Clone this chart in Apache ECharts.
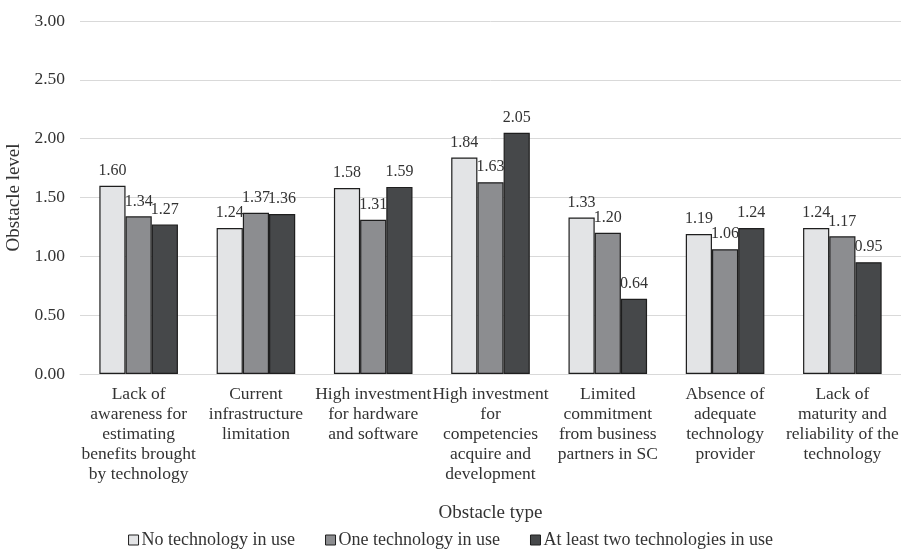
<!DOCTYPE html>
<html>
<head>
<meta charset="utf-8">
<script src="https://cdn.jsdelivr.net/npm/echarts@6/dist/echarts.min.js"></script>
<style>
  html, body { margin: 0; padding: 0; background: #fff; }
  #chart { width: 901px; height: 549px; }
</style>
</head>
<body>
<div id="chart"></div>
<script>
const categories = [
  'Lack of\nawareness for\nestimating\nbenefits brought\nby technology',
  'Current\ninfrastructure\nlimitation',
  'High investment\nfor hardware\nand software',
  'High investment\nfor\ncompetencies\nacquire and\ndevelopment',
  'Limited\ncommitment\nfrom business\npartners in SC',
  'Absence of\nadequate\ntechnology\nprovider',
  'Lack of\nmaturity and\nreliability of the\ntechnology',
];
const seriesNames = ['No technology in use', 'One technology in use', 'At least two technologies in use'];
const noTech = [1.60, 1.24, 1.58, 1.84, 1.33, 1.19, 1.24];
const oneTech = [1.34, 1.37, 1.31, 1.63, 1.20, 1.06, 1.17];
const twoTech = [1.27, 1.36, 1.59, 2.05, 0.64, 1.24, 0.95];
const colors = ['#e3e4e6', '#8c8d90', '#46484a'];

const font = '"Liberation Serif", "Times New Roman", serif';

const chart = echarts.init(document.getElementById('chart'), null, { renderer: 'canvas' });

const makeSeries = (name, data, color) => ({
  name,
  type: 'bar',
  data,
  barGap: '0%',
  barCategoryGap: '33%',
  itemStyle: {
    color,
    borderColor: '#1e1e1e',
    borderWidth: 1.2,
  },
  label: {
    show: true,
    position: 'top',
    distance: 7,
    formatter: (p) => p.value.toFixed(2),
    fontFamily: font,
    fontSize: 16,
    color: '#333',
  },
});

const option = {
  animation: false,
  textStyle: { fontFamily: font },
  grid: {
    left: 80,
    right: 0,
    top: 21,
    bottom: 175,
    outerBoundsMode: 'none',
    containLabel: false,
  },
  legend: {
    top: 526,
    left: 'center',
    itemWidth: 10,
    itemHeight: 10,
    itemGap: 30,
    icon: 'rect',
    textStyle: { fontFamily: font, fontSize: 18, color: '#333', padding: [0, 0, 0, -2] },
    data: seriesNames.map((n) => ({
      name: n,
      itemStyle: { borderColor: '#1e1e1e', borderWidth: 1 },
    })),
  },
  xAxis: {
    type: 'category',
    data: categories,
    name: 'Obstacle type',
    nameLocation: 'middle',
    nameGap: 130,
    nameTextStyle: { fontFamily: font, fontSize: 19, color: '#333' },
    axisLine: { lineStyle: { color: '#d9d9d9', width: 1 } },
    axisTick: { show: false },
    axisLabel: {
      interval: 0,
      fontFamily: font,
      fontSize: 17.5,
      lineHeight: 20,
      color: '#333',
      margin: 10,
    },
  },
  yAxis: {
    type: 'value',
    min: 0,
    max: 3,
    interval: 0.5,
    name: 'Obstacle level',
    nameLocation: 'middle',
    nameGap: 53,
    nameTextStyle: { fontFamily: font, fontSize: 19, color: '#333' },
    axisLine: { show: false },
    axisTick: { show: false },
    axisLabel: {
      formatter: (v) => v.toFixed(2),
      fontFamily: font,
      fontSize: 17.5,
      color: '#333',
      margin: 15,
    },
    splitLine: { lineStyle: { color: '#d9d9d9', width: 1 } },
  },
  series: [
    makeSeries(seriesNames[0], noTech, colors[0]),
    makeSeries(seriesNames[1], oneTech, colors[1]),
    makeSeries(seriesNames[2], twoTech, colors[2]),
  ],
};

chart.setOption(option);
</script>
</body>
</html>
